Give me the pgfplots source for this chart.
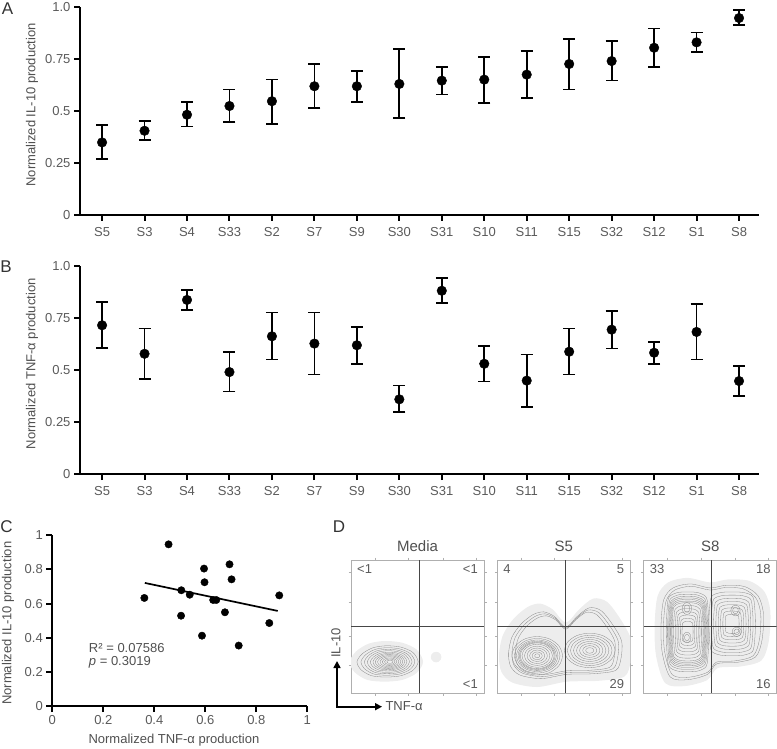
\documentclass[border=0pt]{standalone}
\usepackage{fontspec}
\setmainfont{Liberation Sans}
\usepackage{pgfplots}
\usepackage{pgfplotstable}
\pgfplotsset{compat=1.18}
\usetikzlibrary{arrows.meta}

\definecolor{tickgray}{RGB}{90,90,90}
\definecolor{lblgray}{RGB}{80,80,80}
\definecolor{framegray}{RGB}{175,175,175}
\definecolor{contgray}{RGB}{135,135,135}
\definecolor{haze}{RGB}{237,237,237}
\definecolor{quadgray}{RGB}{70,70,70}

% ---------------- data ----------------
\pgfplotstableread{
x y ep em
0  0.349 0.084 0.081
1  0.405 0.048 0.043
2  0.482 0.060 0.057
3  0.524 0.080 0.078
4  0.547 0.105 0.109
5  0.619 0.107 0.106
6  0.619 0.073 0.076
7  0.630 0.167 0.165
8  0.646 0.064 0.066
9  0.651 0.110 0.113
10 0.675 0.113 0.114
11 0.726 0.119 0.123
12 0.740 0.095 0.094
13 0.804 0.093 0.092
14 0.830 0.047 0.048
15 0.947 0.037 0.035
}\dataA

\pgfplotstableread{
x y ep em
0  0.715 0.112 0.108
1  0.578 0.121 0.121
2  0.837 0.046 0.047
3  0.490 0.095 0.093
4  0.662 0.114 0.111
5  0.627 0.149 0.148
6  0.619 0.088 0.090
7  0.359 0.066 0.062
8  0.881 0.060 0.060
9  0.530 0.085 0.086
10 0.449 0.126 0.127
11 0.588 0.112 0.109
12 0.694 0.091 0.090
13 0.583 0.053 0.053
14 0.683 0.133 0.132
15 0.447 0.072 0.072
}\dataB

\pgfplotstableread{
x y
0.361 0.633
0.456 0.947
0.506 0.678
0.505 0.529
0.539 0.652
0.595 0.805
0.597 0.725
0.587 0.412
0.631 0.621
0.643 0.621
0.677 0.549
0.695 0.830
0.703 0.742
0.731 0.354
0.851 0.486
0.890 0.648
}\dataC

% contour shapes for the flow plots
\pgfplotstableread{
x y
1 0
0.866 0.5
0.5 0.866
0 1
-0.5 0.866
-0.866 0.5
-1 0
-0.866 -0.5
-0.5 -0.866
0 -1
0.5 -0.866
0.866 -0.5
}\unitcirc

\pgfplotstableread{
x y
1 0
0.97 0.5
0.88 0.86
0.5 0.98
0 1
-0.5 0.98
-0.88 0.86
-0.97 0.5
-1 0
-0.97 -0.5
-0.88 -0.86
-0.5 -0.98
0 -1
0.5 -0.98
0.88 -0.86
0.97 -0.5
}\rsq

\pgfplotstableread{
x y
21 0
17 7
8 11
-3 12
-13 10.5
-21 6
-25 0
-22 -6
-14 -10.5
-3 -11.5
8 -10.5
17 -6.5
}\egg

\pgfplotstableread{
x y
8.5 30
11 42
18 52
27 59
35 61
43 57.5
48 52
51.5 49.5
55 52
60 57.5
69 64
78 62
87 51
93.5 39
93 26
89 17
72 14.5
52 14
33 10.8
17 13.5
10 20
}\envS

\pgfplotstableread{
x y
14 30
13 50
15 70
22 79
35 82
50 79
62 81
76 80
86 73
90 60
89 40
84 27
70 23
55 22
48 14
33 10
20 12
}\envE

\pgfplotsset{
  prism/.style={
    scale only axis,
    axis lines*=left,
    axis line style={line width=2pt, black, -},
    tick style={line width=2pt, black},
    tick align=outside,
    major tick length=6pt,
    tick label style={text=tickgray, font=\fontsize{13}{15}\selectfont},
    label style={text=lblgray, font=\fontsize{13}{15}\selectfont},
    clip=false,
  },
  catax/.style={prism, anchor=south west, width=679pt, height=208pt,
    xmin=-0.52, xmax=15.47, ymin=0, ymax=1,
    xtick={0,...,15},
    xticklabels={S5,S3,S4,S33,S2,S7,S9,S30,S31,S10,S11,S15,S32,S12,S1,S8},
    xticklabel style={yshift=-3pt},
    ytick={0,0.25,0.5,0.75,1}, yticklabels={0,0.25,0.5,0.75,1.0},
    ylabel style={at={(axis description cs:-0.0707,0.53)}, anchor=center},
  },
  errplot/.style={only marks, mark=*, mark size=4.8pt, black,
    error bars/.cd, y dir=both, y explicit,
    error bar style={line width=1.7pt, black},
    error mark options={rotate=90, mark size=6pt, line width=1.7pt, black}},
  flow/.style={scale only axis, anchor=south west, width=133pt, height=133pt,
    xmin=0, xmax=100, ymin=0, ymax=100,
    axis line style={framegray, line width=0.6pt},
    xtick={18,43,69,94}, ytick={21,43,68,91}, xticklabels={}, yticklabels={},
    minor x tick num=4,
    tick align=outside, major tick length=2.5pt, minor tick length=1.5pt,
    tick style={framegray, line width=0.5pt},
  },
  cont/.style={contgray, line width=0.3pt, smooth cycle, no markers, forget plot},
  halo/.style={fill=haze, draw=none, smooth cycle, no markers, forget plot},
}
\newcommand{\qlab}{\fontsize{13}{15}\selectfont}

\begin{document}
\begin{tikzpicture}
\path[use as bounding box] (0pt,0pt) rectangle (777pt,748pt);

% ---------------- Panel A ----------------
\begin{axis}[catax, at={(80pt,533pt)}, ylabel={Normalized IL-10 production}]
\addplot[errplot] table[x=x, y=y, y error plus=ep, y error minus=em] {\dataA};
\end{axis}

% ---------------- Panel B ----------------
\begin{axis}[catax, at={(80pt,274pt)}, ylabel={Normalized TNF-α production}]
\addplot[errplot] table[x=x, y=y, y error plus=ep, y error minus=em] {\dataB};
\end{axis}

% ---------------- Panel C ----------------
\begin{axis}[prism, anchor=south west, at={(52.3pt,42pt)}, width=255pt, height=170.7pt,
  xmin=0, xmax=1, ymin=0, ymax=1,
  xtick={0,0.2,0.4,0.6,0.8,1}, xticklabels={0,0.2,0.4,0.6,0.8,1},
  ytick={0,0.2,0.4,0.6,0.8,1}, yticklabels={0,0.2,0.4,0.6,0.8,1},
  xlabel={Normalized TNF-α production}, ylabel={Normalized IL-10 production},
  xlabel style={at={(axis description cs:0.477,-0.2)}, anchor=center},
  ylabel style={at={(axis description cs:-0.174,0.485)}, anchor=center}]
\addplot[only marks, mark=*, mark size=3.7pt, black] table[x=x, y=y] {\dataC};
\addplot[black, line width=1.7pt] coordinates {(0.363,0.721) (0.884,0.557)};
\node[anchor=west, text=lblgray, font=\fontsize{13}{15}\selectfont] at (axis cs:0.13,0.342) {R² = 0.07586};
\node[anchor=west, text=lblgray, font=\fontsize{13}{15}\selectfont] at (axis cs:0.13,0.254) {\textit{p} = 0.3019};
\end{axis}

% ---------------- Panel D: Media ----------------
\begin{axis}[flow, at={(351pt,55pt)}]
\addplot[halo] table[x expr=29+1.2*\thisrow{x}, y expr=23.5+1.3*\thisrow{y}] {\egg};
\addplot[halo] table[x expr=64+4*\thisrow{x}, y expr=27+4*\thisrow{y}] {\unitcirc};
\pgfplotsinvokeforeach{1,0.88,0.78,0.69,0.6,0.52,0.45,0.38,0.31,0.24,0.17,0.1}{
  \addplot[cont] table[x expr=29.5+#1*\thisrow{x}, y expr=23.5+#1*\thisrow{y}] {\egg};
}
\addplot[quadgray, line width=0.6pt] coordinates {(51,0) (51,100)};
\addplot[quadgray, line width=0.6pt] coordinates {(0,50.5) (100,50.5)};
\node[anchor=north west, text=tickgray, font=\qlab] at (axis cs:2,99) {<1};
\node[anchor=north east, text=tickgray, font=\qlab] at (axis cs:98,99) {<1};
\node[anchor=south east, text=tickgray, font=\qlab] at (axis cs:98,1) {<1};
\end{axis}

% ---------------- Panel D: S5 ----------------
\begin{axis}[flow, at={(497.3pt,55pt)}]
\addplot[halo] table[x expr=51+1.17*(\thisrow{x}-51), y expr=36+1.25*(\thisrow{y}-36)] {\envS};
\pgfplotsinvokeforeach{1,0.94,0.88}{
  \addplot[cont] table[x expr=51+#1*(\thisrow{x}-51), y expr=36+#1*(\thisrow{y}-36)] {\envS};
}
\pgfplotsinvokeforeach{1,0.9,0.82,0.76,0.71,0.67,0.6,0.5,0.4,0.3,0.2,0.1}{
  \addplot[cont] table[x expr=30+#1*19*\thisrow{x}, y expr=28+#1*14.5*\thisrow{y}] {\unitcirc};
}
\pgfplotsinvokeforeach{1,0.88,0.76,0.64,0.52,0.4,0.28,0.16}{
  \addplot[cont] table[x expr=69.5+#1*19*\thisrow{x}, y expr=32+#1*13*\thisrow{y}] {\unitcirc};
}
\addplot[quadgray, line width=0.6pt] coordinates {(51.5,0) (51.5,100)};
\addplot[quadgray, line width=0.6pt] coordinates {(0,50.3) (100,50.3)};
\node[anchor=north west, text=tickgray, font=\qlab] at (axis cs:2,99) {4};
\node[anchor=north east, text=tickgray, font=\qlab] at (axis cs:98,99) {5};
\node[anchor=south east, text=tickgray, font=\qlab] at (axis cs:98,1) {29};
\end{axis}

% ---------------- Panel D: S8 ----------------
\begin{axis}[flow, at={(643.7pt,55pt)}]
\addplot[halo] table[x expr=50+1.13*(\thisrow{x}-50), y expr=47+1.13*(\thisrow{y}-47)] {\envE};
\pgfplotsinvokeforeach{1,0.95}{
  \addplot[cont] table[x expr=50+#1*(\thisrow{x}-50), y expr=47+#1*(\thisrow{y}-47)] {\envE};
}
\pgfplotsinvokeforeach{1,0.94,0.89,0.85,0.81,0.77,0.73,0.66,0.58,0.5,0.42,0.34,0.26}{
  \addplot[cont] table[x expr=33+#1*16*\thisrow{x}, y expr=46+#1*30*\thisrow{y}] {\rsq};
}
\pgfplotsinvokeforeach{1,0.9,0.8,0.7,0.6,0.5,0.4,0.3}{
  \addplot[cont] table[x expr=66.5+#1*17.5*\thisrow{x}, y expr=52+#1*24*\thisrow{y}] {\rsq};
}
\pgfplotsinvokeforeach{1,0.6}{
  \addplot[cont] table[x expr=32.5+#1*3.5*\thisrow{x}, y expr=63.5+#1*4.5*\thisrow{y}] {\unitcirc};
  \addplot[cont] table[x expr=32.5+#1*3*\thisrow{x}, y expr=41.7+#1*4*\thisrow{y}] {\unitcirc};
  \addplot[cont] table[x expr=69+#1*3.5*\thisrow{x}, y expr=62+#1*4*\thisrow{y}] {\unitcirc};
  \addplot[cont] table[x expr=70+#1*3.5*\thisrow{x}, y expr=46+#1*3.5*\thisrow{y}] {\unitcirc};
}
\addplot[quadgray, line width=0.6pt] coordinates {(50.5,0) (50.5,100)};
\addplot[quadgray, line width=0.6pt] coordinates {(0,50.3) (100,50.3)};
\node[anchor=north west, text=tickgray, font=\qlab] at (axis cs:2,99) {33};
\node[anchor=north east, text=tickgray, font=\qlab] at (axis cs:98,99) {18};
\node[anchor=south east, text=tickgray, font=\qlab] at (axis cs:98,1) {16};
\end{axis}

% ---------------- titles, arrows, panel letters ----------------
\node[text=lblgray, font=\fontsize{15}{17}\selectfont] at (417.5pt,202pt) {Media};
\node[text=lblgray, font=\fontsize{15}{17}\selectfont] at (563.8pt,202pt) {S5};
\node[text=lblgray, font=\fontsize{15}{17}\selectfont] at (710.3pt,202pt) {S8};
\draw[line width=1.6pt, -{Triangle[length=7pt,width=7pt]}] (337pt,41.3pt) -- (337pt,87pt);
\draw[line width=1.6pt, -{Triangle[length=7pt,width=7pt]}] (336.2pt,41.3pt) -- (382pt,41.3pt);
\node[anchor=west, text=lblgray, font=\fontsize{13}{15}\selectfont] at (382pt,41.5pt) {TNF-α};
\node[rotate=90, anchor=west, inner sep=0pt, text=lblgray, font=\fontsize{13}{15}\selectfont] at (336pt,90pt) {IL-10};

\node[text=black!80, font=\fontsize{17}{20}\selectfont] at (7.5pt,739pt) {A};
\node[text=black!80, font=\fontsize{17}{20}\selectfont] at (6pt,481.5pt) {B};
\node[text=black!80, font=\fontsize{17}{20}\selectfont] at (6.5pt,221pt) {C};
\node[text=black!80, font=\fontsize{17}{20}\selectfont] at (339pt,221pt) {D};
\end{tikzpicture}
\end{document}
